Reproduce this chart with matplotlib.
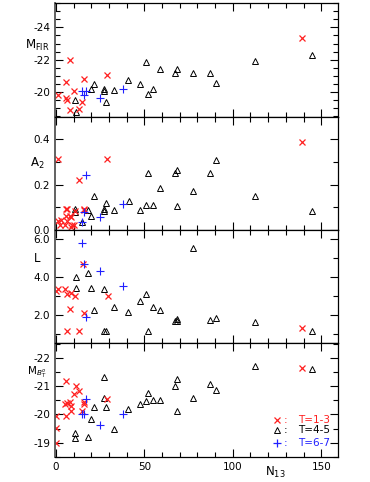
import matplotlib
matplotlib.use("Agg")
import matplotlib.pyplot as plt
from matplotlib.ticker import MultipleLocator, FixedLocator

plt.rcParams["font.family"] = "DejaVu Sans"
plt.rcParams["axes.unicode_minus"] = False

# Panel 1: M_FIR
fir_red_x = [1, 8.1, 6.0, 5.5, 6.3, 10.2, 8.1, 13, 15, 16.1, 28.8, 138.9]
fir_red_y = [-19.8, -21.98, -20.64, -19.67, -19.52, -20.1, -18.9, -18.98, -19.4, -20.8, -21.09, -23.34]
fir_blk_x = [10.9, 11.3, 19.9, 21.4, 27, 27.3, 28.1, 32.9, 40.7, 47.8, 50.8, 51.9,
             54.7, 58.9, 67.6, 68.7, 77.5, 87.4, 90.4, 112.4, 144.8]
fir_blk_y = [-19.52, -18.8, -20.19, -20.51, -20.1, -20.22, -19.4, -20.14, -20.76, -20.5, -21.86, -19.88,
             -20.22, -21.46, -21.18, -21.42, -21.18, -21.21, -20.56, -21.9, -22.29]
fir_blu_x = [14.8, 17.2, 16.1, 24.9, 37.9]
fir_blu_y = [-20.08, -20.08, -19.81, -19.65, -20.19]

# Panel 2: A2
a2_red_x = [1, 28.8, 13, 138.9, 6, 15.8, 6.3, 5.9, 7.7, 6.3, 8.3, 9.1, 3.1, 2.1, 4.9, 10.5, 8.3, 1, 16.1, 10.9]
a2_red_y = [0.311, 0.311, 0.219, 0.386, 0.093, 0.088, 0.092, 0.062, 0.062, 0.04, 0.056, 0.022, 0.044,
            0.022, 0.022, 0.022, 0.015, 0.04, 0.091, 0.085]
a2_blk_x = [10.9, 10.9, 18, 19.9, 21.4, 27, 27.1, 28.1, 32.9, 41.1, 47.8, 50.8, 51.8, 54.7,
            58.9, 67.6, 68.7, 68.7, 77.5, 87.4, 90.4, 112.4, 144.8, 14.8]
a2_blk_y = [0.093, 0.078, 0.088, 0.062, 0.151, 0.093, 0.084, 0.119, 0.089, 0.126, 0.089, 0.109, 0.25, 0.11,
            0.184, 0.25, 0.264, 0.106, 0.172, 0.252, 0.307, 0.151, 0.082, 0.037]
a2_blu_x = [17.2, 16.1, 14.8, 24.9, 37.9]
a2_blu_y = [0.241, 0.078, 0.037, 0.059, 0.116]

# Panel 3: L
l_red_x = [0, 1, 4.9, 6.3, 8.3, 10.9, 15.2, 16.1, 29.2, 8.1, 6.3, 13.3, 138.9]
l_red_y = [3.3, 3.37, 3.38, 3.1, 3.19, 3.02, 4.7, 2.1, 3.02, 2.32, 1.14, 1.14, 1.33]
l_blk_x = [11.3, 11.3, 18.2, 20, 21.4, 27, 27.3, 28.1, 32.9, 40.7, 47.8, 50.8, 51.8, 54.7,
           58.9, 67.6, 68.4, 68.7, 77.5, 87.4, 90.4, 112.4, 144.8]
l_blk_y = [4.03, 3.45, 4.24, 3.45, 2.26, 3.37, 1.14, 1.14, 2.45, 2.16, 2.75, 3.14, 1.14, 2.45,
           2.26, 1.7, 1.82, 1.7, 5.53, 1.74, 1.84, 1.66, 1.14]
l_blu_x = [14.8, 16.1, 24.9, 37.9, 17.2]
l_blu_y = [5.79, 4.70, 4.32, 3.53, 1.91]

# Panel 4: M_B
mb_red_x = [0, 0, 0, 5.9, 4.9, 6.4, 8.1, 8.3, 8.3, 10.2, 5.9, 11.1, 13, 14.8, 15.8, 16.1, 28.8, 138.9]
mb_red_y = [-19.01, -19.51, -19.96, -19.96, -20.36, -20.4, -20.44, -20.28, -20.11, -20.72, -21.17,
            -21.01, -20.83, -20.12, -20.36, -20.45, -20.53, -21.65]
mb_blk_x = [10.9, 10.9, 18, 19.9, 21.4, 27.1, 27, 28.1, 32.9, 40.9, 47.8, 50.8, 51.9, 54.7,
            58.9, 67.6, 68.7, 68.7, 77.5, 87.4, 90.4, 112.4, 144.8]
mb_blk_y = [-19.33, -19.17, -19.19, -19.85, -20.26, -21.31, -20.58, -20.26, -19.48, -20.18, -20.38,
            -20.46, -20.76, -20.51, -20.52, -21.0, -21.26, -20.12, -20.58, -21.09, -20.85, -21.72, -21.61]
mb_blu_x = [17.2, 14.8, 16.1, 24.9, 37.9]
mb_blu_y = [-20.53, -20.02, -20.0, -19.63, -20.02]

legend_labels = ["T=1-3", "T=4-5", "T=6-7"]

RED, BLK, BLU = "#ff2020", "black", "#2020ff"

fig = plt.figure(figsize=(3.7, 4.82), dpi=100)
gs = fig.add_gridspec(4, 1, left=55 / 370, right=338 / 370, bottom=1 - 457 / 482,
                      top=1 - 3 / 482, hspace=0)
axes = [fig.add_subplot(gs[i]) for i in range(4)]

panels = [
    (fir_red_x, fir_red_y, fir_blk_x, fir_blk_y, fir_blu_x, fir_blu_y),
    (a2_red_x, a2_red_y, a2_blk_x, a2_blk_y, a2_blu_x, a2_blu_y),
    (l_red_x, l_red_y, l_blk_x, l_blk_y, l_blu_x, l_blu_y),
    (mb_red_x, mb_red_y, mb_blk_x, mb_blk_y, mb_blu_x, mb_blu_y),
]

for ax, (rx, ry, bx, by, ux, uy) in zip(axes, panels):
    ax.plot(bx, by, ls="none", marker="^", ms=4.2, mfc="none", mec=BLK, mew=0.7)
    ax.plot(rx, ry, ls="none", marker="x", ms=5, color=RED, mew=0.9)
    ax.plot(ux, uy, ls="none", marker="+", ms=6, color=BLU, mew=0.8)
    ax.set_xlim(-0.5, 159.5)
    ax.xaxis.set_major_locator(MultipleLocator(50))
    ax.xaxis.set_minor_locator(MultipleLocator(10))
    ax.tick_params(which="both", direction="in", top=True, right=True, labelsize=7.5)
    ax.tick_params(which="major", length=6, width=0.8)
    ax.tick_params(which="minor", length=3.5, width=0.8)
    if ax is not axes[-1]:
        ax.tick_params(labelbottom=False)
    for s in ax.spines.values():
        s.set_linewidth(0.9)
    ax.spines["left"].set_color("#555555")
    ax.spines["left"].set_linewidth(1.3)

# y axes
axes[0].set_ylim(-18.5, -25.5)
axes[0].yaxis.set_major_locator(FixedLocator([-24, -22, -20]))
axes[0].yaxis.set_minor_locator(MultipleLocator(0.5))
axes[0].yaxis.set_major_formatter(lambda v, p: f"{v:.0f}")
axes[1].set_ylim(0, 0.5)
axes[1].yaxis.set_major_locator(MultipleLocator(0.2))
axes[1].yaxis.set_minor_locator(MultipleLocator(0.1))
axes[1].yaxis.set_major_formatter(lambda v, p: f"{v:.1f}")
axes[2].set_ylim(0.5, 6.5)
axes[2].yaxis.set_major_locator(MultipleLocator(2))
axes[2].yaxis.set_minor_locator(MultipleLocator(1))
axes[2].yaxis.set_major_formatter(lambda v, p: f"{v:.1f}")
axes[3].set_ylim(-18.5, -22.5)
axes[3].yaxis.set_major_locator(MultipleLocator(1))
axes[3].yaxis.set_minor_locator(MultipleLocator(0.5))
axes[3].yaxis.set_major_formatter(lambda v, p: f"{v:.0f}")

# y labels
ylab_x = 37 / 370
fig.text(ylab_x, 1 - 45 / 482, r"M$_{\rm FIR}$", ha="center", va="center", fontsize=8.5)
fig.text(ylab_x, 1 - 163 / 482, r"A$_2$", ha="center", va="center", fontsize=8.5)
fig.text(ylab_x, 1 - 258 / 482, "L", ha="center", va="center", fontsize=8.5)
fig.text(ylab_x, 1 - 372 / 482, r"M$_{B_T^o}$", ha="center", va="center", fontsize=7.5)
fig.text(275 / 370, 1 - 472 / 482, r"N$_{13}$", ha="center", va="center", fontsize=8.5)

# legend
ax = axes[3]
leg_y = [0.325, 0.237, 0.125]
leg_style = [("x", RED, 5, "full"), ("^", BLK, 4, "none"), ("+", BLU, 6, "full")]
for yy, lab, (m, c, ms, fill) in zip(leg_y, legend_labels, leg_style):
    if fill == "none":
        ax.plot([0.784], [yy], transform=ax.transAxes, marker=m, ms=ms, mfc="none", mec=c, mew=0.7)
    else:
        ax.plot([0.784], [yy], transform=ax.transAxes, marker=m, ms=ms, color=c, mew=0.9)
    ax.text(0.816, yy, ":", transform=ax.transAxes, color=c, fontsize=7.5, ha="center", va="center")
    ax.text(0.859, yy, lab, transform=ax.transAxes, color=c, fontsize=7.5, ha="left", va="center")

fig.savefig("out.png", dpi=100)
